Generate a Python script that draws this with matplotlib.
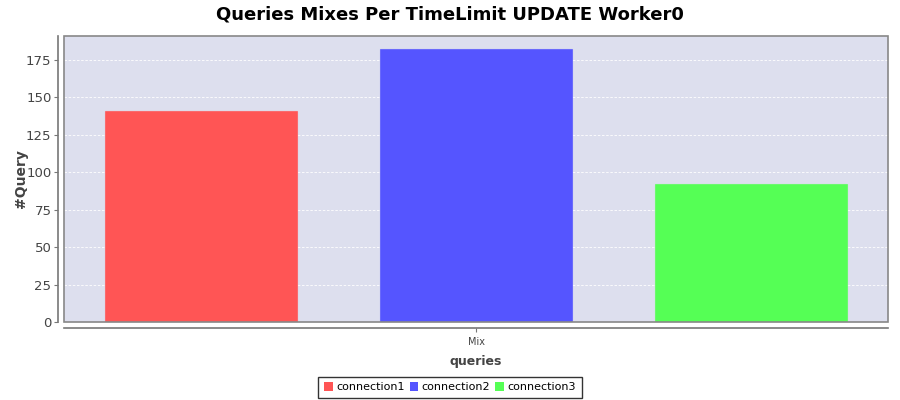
import matplotlib.pyplot as plt
from matplotlib.patches import Rectangle, Patch

title = "Queries Mixes Per TimeLimit UPDATE Worker0"
category = "Mix"
series = ["connection1", "connection2", "connection3"]
counts = [141, 182, 92]
colors = ["#FF5555", "#5555FF", "#55FF55"]

fig = plt.figure(figsize=(9, 4), dpi=100)
ax = fig.add_axes([0.0711, 0.195, 0.9156, 0.716])
ax.set_facecolor("#DDDFEE")

pos = range(len(counts))
ax.bar(pos, counts, width=0.7, color=colors, edgecolor=[c + "AA" for c in colors],
       linewidth=0.8, zorder=3)

ax.set_xlim(-0.5, 2.5)
ax.set_ylim(0, max(counts) * 1.05)
ax.set_yticks([0, 25, 50, 75, 100, 125, 150, 175])
ax.set_xticks([1])
ax.set_xticklabels([category])
ax.tick_params(axis="y", labelsize=9.5, labelcolor="#444444", length=3, width=0.8, color="#777777", pad=2)
ax.tick_params(axis="x", labelsize=7, labelcolor="#444444", length=3, width=0.8, color="#777777", pad=3.5)
ax.yaxis.grid(True, color="white", linestyle=(0, (3, 2)), linewidth=0.6, zorder=0)

for s in ["top", "right"]:
    ax.spines[s].set_visible(False)
for s in ["left", "bottom"]:
    ax.spines[s].set_position(("outward", 4))
    ax.spines[s].set_color("#777777")
    ax.spines[s].set_linewidth(1.2)
ax.add_patch(Rectangle((0, 0), 1, 1, transform=ax.transAxes, fill=False,
                       edgecolor="#888888", linewidth=1.2, zorder=4, clip_on=False))

ax.set_ylabel("#Query", fontsize=10, fontweight="bold", color="#444444")
ax.yaxis.set_label_coords(-0.044, 0.5)
ax.set_xlabel("queries", fontsize=9, fontweight="bold", color="#444444", labelpad=6)
fig.suptitle(title, fontsize=13, fontweight="bold", y=0.985)

handles = [Patch(facecolor=c, edgecolor="none") for c in colors]
leg = fig.legend(handles, series, loc="center", bbox_to_anchor=(0.5, 0.032), ncol=3,
                 fontsize=8, frameon=True, fancybox=False, handlelength=0.8,
                 handleheight=0.8, handletextpad=0.3, columnspacing=0.45,
                 borderpad=0.5, borderaxespad=0)
leg.get_frame().set_edgecolor("black")
leg.get_frame().set_linewidth(1.0)

fig.savefig("out.png", dpi=100)
